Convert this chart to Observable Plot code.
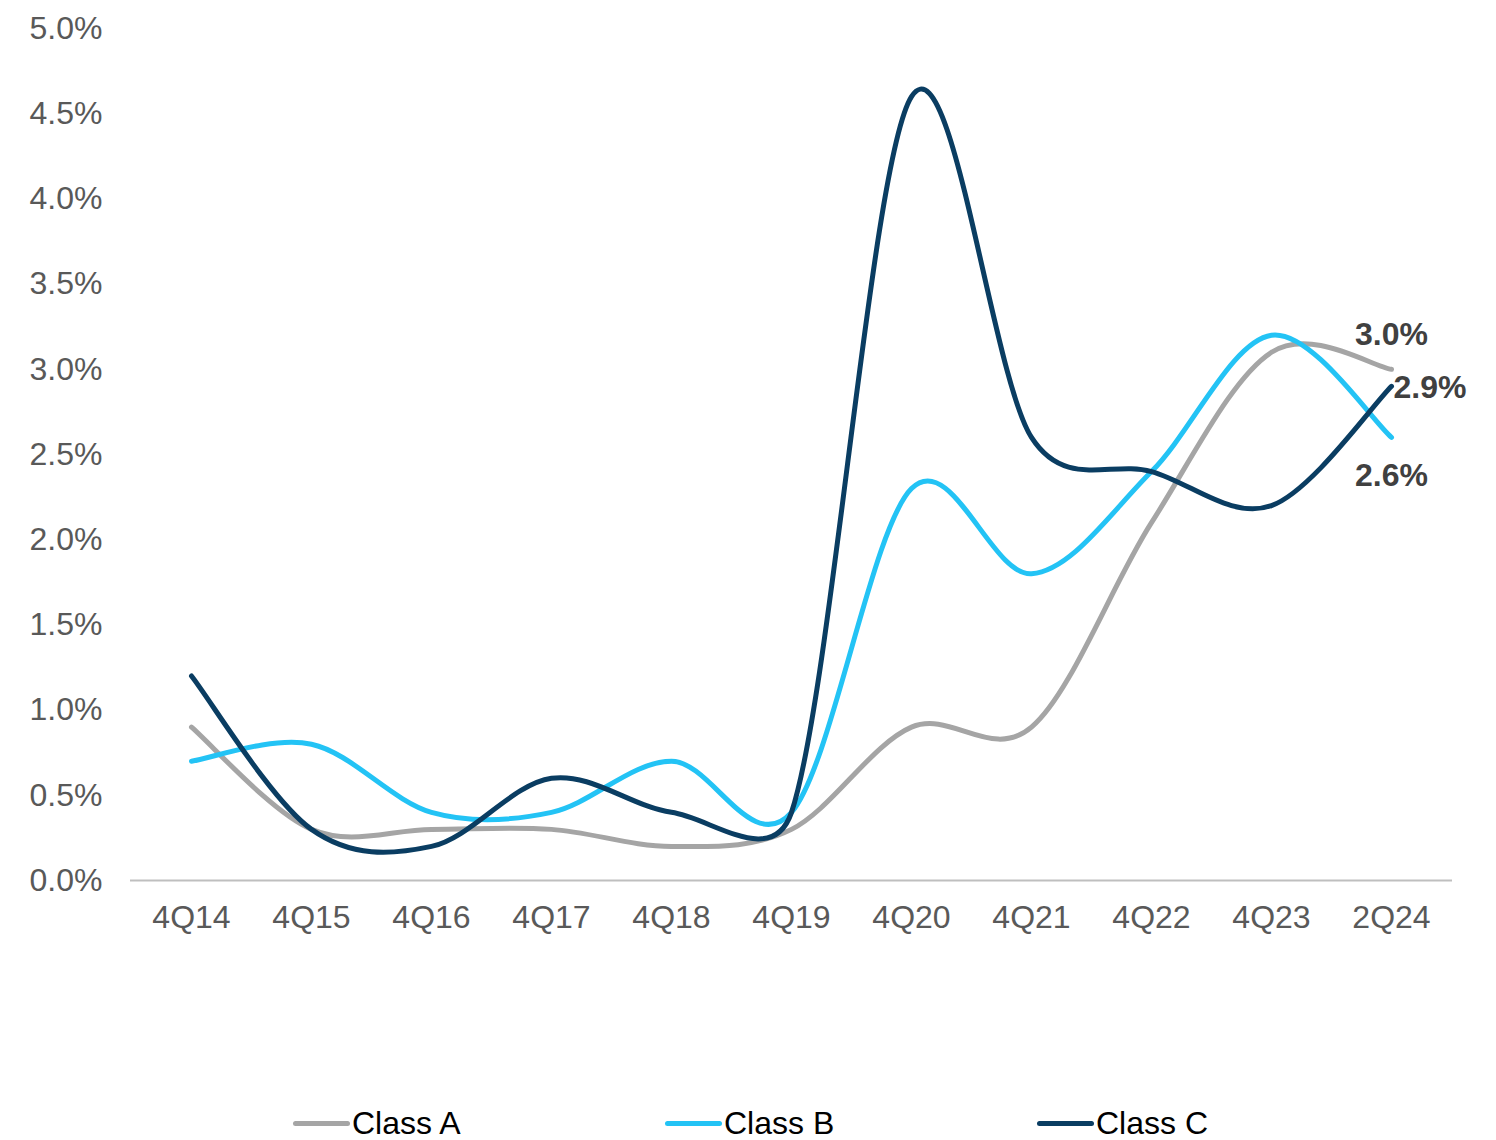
<!DOCTYPE html>
<html>
<head>
<meta charset="utf-8">
<script src="https://cdn.jsdelivr.net/npm/d3@7"></script>
<script src="https://cdn.jsdelivr.net/npm/@observablehq/plot@0.6"></script>
<style>
  body { margin: 0; background: #fff; font-family: "Liberation Sans", Arial, sans-serif; }
  #wrap { position: relative; width: 1496px; height: 1140px; overflow: hidden; }
  .legend { position: absolute; top: 1107px; left: 0; width: 1496px; height: 33px; }
  .item { position: absolute; display: flex; align-items: center; font-size: 32px; line-height: 33px; color: #000; }
  .swatch { width: 57px; height: 5px; border-radius: 3px; margin-right: 2px; }
</style>
</head>
<body>
<div id="wrap">
  <div id="chart"></div>
  <div class="legend" id="legend"></div>
</div>
<script>
const categories = ["4Q14","4Q15","4Q16","4Q17","4Q18","4Q19","4Q20","4Q21","4Q22","4Q23","2Q24"];
const seriesNames = ["Class A","Class B","Class C"];
const classA = [0.9, 0.3, 0.3, 0.3, 0.2, 0.3, 0.9, 0.9, 2.1, 3.1, 3.0];
const classB = [0.7, 0.8, 0.4, 0.4, 0.7, 0.4, 2.3, 1.8, 2.4, 3.2, 2.6];
const classC = [1.2, 0.3, 0.2, 0.6, 0.4, 0.4, 4.6, 2.6, 2.4, 2.2, 2.9];
const colors = ["#A5A5A5", "#23C3F5", "#0A3D62"];
const yTicks = [0, 0.5, 1, 1.5, 2, 2.5, 3, 3.5, 4, 4.5, 5];

const seriesValues = [classA, classB, classC];
const rows = [];
seriesNames.forEach((s, i) => categories.forEach((c, j) => rows.push({series: s, cat: c, value: seriesValues[i][j]})));
const last = seriesNames.map((s, i) => ({series: s, cat: categories[categories.length - 1], value: seriesValues[i][categories.length - 1]}));

// Spreadsheet-style smoothing: Catmull-Rom (1/6) with control points limited to half the segment
function SmoothCurve(context) { this._context = context; }
SmoothCurve.prototype = {
  areaStart() { this._line = 0; },
  areaEnd() { this._line = NaN; },
  lineStart() { this._pts = []; },
  point(x, y) { this._pts.push([+x, +y]); },
  lineEnd() {
    const p = this._pts, n = p.length, ctx = this._context;
    if (!n) return;
    ctx.moveTo(p[0][0], p[0][1]);
    if (n === 1) return;
    const dist = (a, b) => Math.hypot(a[0] - b[0], a[1] - b[1]);
    const f = 1 / 6;
    for (let i = 0; i < n - 1; i++) {
      const p0 = p[i - 1] || p[i], p1 = p[i], p2 = p[i + 1], p3 = p[i + 2] || p[i + 1];
      const d02 = dist(p0, p2), d13 = dist(p1, p3), d12 = dist(p1, p2);
      const f1 = (d02 * f < d12 / 2 || !d02) ? f : d12 / d02 / 2;
      const f2 = (d13 * f < d12 / 2 || !d13) ? f : d12 / d13 / 2;
      const c1x = p1[0] + (p2[0] - p0[0]) * f1, c1y = p1[1] + (p2[1] - p0[1]) * f1;
      const c2x = p2[0] - (p3[0] - p1[0]) * f2, c2y = p2[1] - (p3[1] - p1[1]) * f2;
      ctx.bezierCurveTo(c1x, c1y, c2x, c2y, p2[0], p2[1]);
    }
  }
};
const curveSmooth = ctx => new SmoothCurve(ctx);

// label placement offsets (style)
const labelOpts = [
  {dx: 0, dy: -35, textAnchor: "middle"},
  {dx: 0, dy: 38, textAnchor: "middle"},
  {dx: 2, dy: 1, textAnchor: "start"}
];

const chart = Plot.plot({
  width: 1496,
  height: 1090,
  marginLeft: 130,
  marginRight: 44,
  marginTop: 28,
  marginBottom: 210,
  style: {fontFamily: "'Liberation Sans', Arial, sans-serif", background: "#fff"},
  x: {type: "point", domain: categories, padding: 0.5, label: null},
  y: {domain: [0, 5], label: null},
  color: {domain: seriesNames, range: colors},
  marks: [
    Plot.axisY({ticks: yTicks, tickSize: 0, tickPadding: 28, tickFormat: d => d.toFixed(1) + "%", fontSize: 32, fill: "#595959", label: null}),
    Plot.axisX({tickSize: 0, tickPadding: 25, fontSize: 32, fill: "#595959", label: null}),
    Plot.ruleY([0], {stroke: "#BFBFBF", strokeWidth: 2}),
    Plot.line(rows, {x: "cat", y: "value", z: "series", stroke: "series", strokeWidth: 5, curve: curveSmooth, strokeLinecap: "round"}),
    ...last.map((d, i) => Plot.text([d], {
      x: "cat", y: "value",
      text: v => v.value.toFixed(1) + "%",
      fontSize: 32, fontWeight: "bold", fill: "#404040",
      ...labelOpts[i]
    }))
  ]
});
document.getElementById("chart").appendChild(chart);

const legendLefts = [293, 665, 1037];
const legend = document.getElementById("legend");
seriesNames.forEach((s, i) => {
  const item = document.createElement("div");
  item.className = "item";
  item.style.left = legendLefts[i] + "px";
  const sw = document.createElement("span");
  sw.className = "swatch";
  sw.style.background = colors[i];
  const t = document.createElement("span");
  t.textContent = s;
  item.appendChild(sw);
  item.appendChild(t);
  legend.appendChild(item);
});
</script>
</body>
</html>
